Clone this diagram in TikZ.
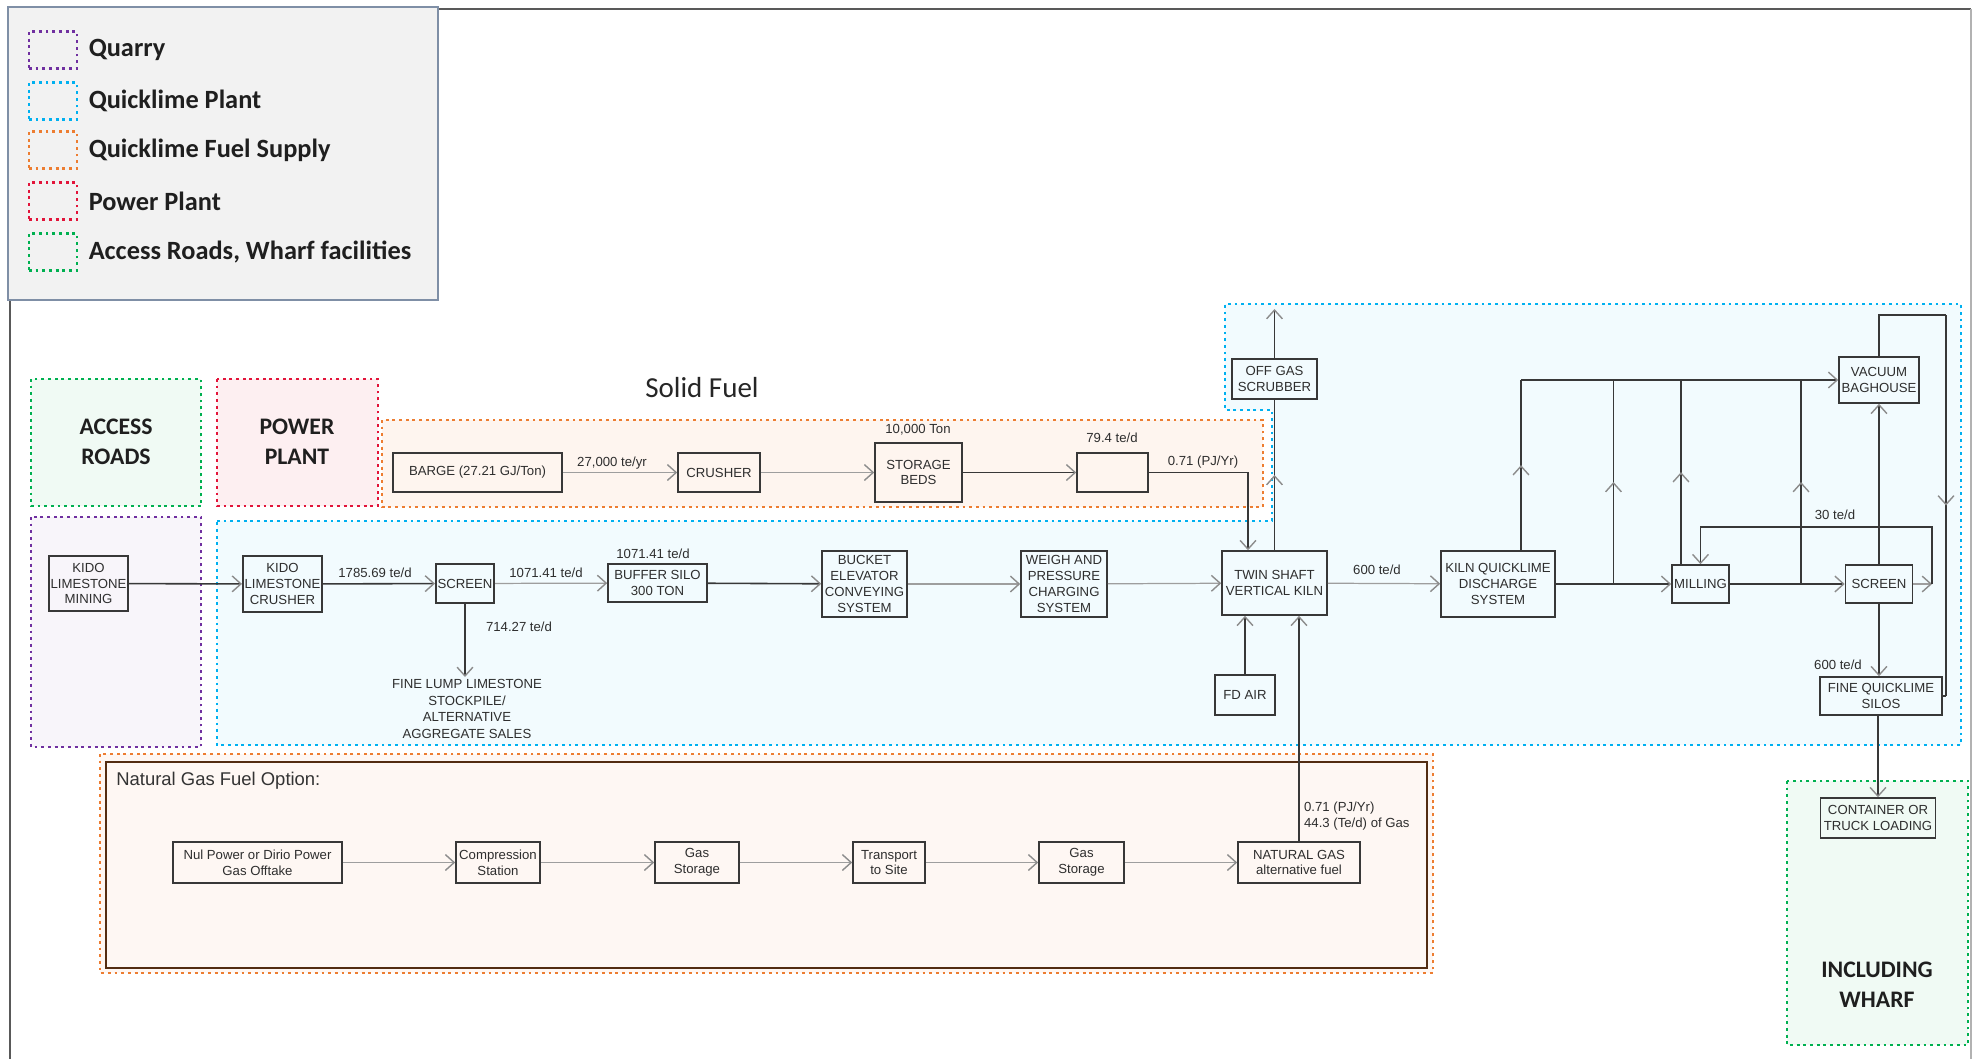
\documentclass[tikz,border=0pt]{standalone}
\usepackage{fontspec}
\setmainfont{Liberation Sans}
\newfontfamily\calfont{Carlito}
\usepackage{tikz}
\usetikzlibrary{arrows.meta, calc, positioning, decorations.markings}
\definecolor{myquarry}{HTML}{7030A0}
\definecolor{myplant}{HTML}{00B0F0}
\definecolor{myfuel}{HTML}{ED7D31}
\definecolor{mypower}{HTML}{E2143A}
\definecolor{myroads}{HTML}{00B050}
\definecolor{legendedge}{HTML}{7F8FA6}
\tikzstyle{procbox} = [draw=black!78, line width=0.9pt, align=center, inner sep=1pt, text=black!82, font=\fontsize{7.5}{9}\selectfont]
\tikzstyle{ratelabel} = [inner sep=1pt, text=black!82, font=\fontsize{7.5}{9}\selectfont]
\tikzstyle{darkflow} = [draw=black!78, line width=0.9pt]
\tikzstyle{liteflow} = [draw=black!38, line width=0.7pt]
\tikzstyle{arrowend} = [-{Straight Barb[length=5pt,width=9pt,color=black!45,line width=0.8pt]}]
\tikzstyle{midarrow} = [postaction={decorate}, decoration={markings, mark=at position 0.5 with {\arrow{Straight Barb[length=5pt,width=9pt,color=black!45,line width=0.8pt]}}}]
\tikzstyle{zone} = [line width=1.6pt, dash pattern=on 1.6pt off 2.2pt]
\tikzstyle{zonetitle} = [align=center, text=black!88, font=\calfont\bfseries\fontsize{13.5}{17}\selectfont]
\tikzstyle{legmark} = [zone, minimum width=0.96cm, minimum height=0.74cm, inner sep=0pt]
\tikzstyle{legtext} = [inner sep=0pt, text=black!88, font=\calfont\bfseries\fontsize{15}{18}\selectfont]

\begin{document}
\begin{tikzpicture}[x=0.02cm, y=-0.02cm]
\useasboundingbox (0,0) rectangle (1979,1059);

% page frame and legend
\draw[black!65, line width=1.1pt] (10,300) -- (10,1059);
\draw[black!65, line width=1.1pt] (438,9) -- (1971,9);
\draw[black!30, line width=0.8pt] (1971,9) -- (1971,1059);
\draw[legendedge, line width=1.2pt, fill=black!5] (8,7) rectangle (438,300);

\node[legmark, draw=myquarry] (legquarry) at (53,50) {};
\node[legtext, right=0.2cm of legquarry] (txtquarry) {Quarry};
\node[legmark, draw=myplant] (legplant) at (53,101) {};
\node[legtext, right=0.2cm of legplant] (txtplant) {Quicklime Plant};
\node[legmark, draw=myfuel] (legfuel) at (53,150) {};
\node[legtext, right=0.2cm of legfuel] (txtfuel) {Quicklime Fuel Supply};
\node[legmark, draw=mypower] (legpower) at (53,201) {};
\node[legtext, right=0.2cm of legpower] (txtpower) {Power Plant};
\node[legmark, draw=myroads] (legroads) at (53,252) {};
\node[legtext, right=0.2cm of legroads] (txtroads) {Access Roads, Wharf facilities};

% zones
\draw[zone, draw=myroads, fill=myroads!6] (31,379) rectangle (201,506);
\node[zonetitle] (roadstitle) at (116,442) {ACCESS\\ROADS};
\draw[zone, draw=mypower, fill=mypower!7] (217,379) rectangle (378,506);
\node[zonetitle] (powertitle) at (297,442) {POWER\\PLANT};
\draw[zone, draw=myquarry, fill=myquarry!5] (31,517) rectangle (201,747);
\draw[zone, draw=myfuel, fill=myfuel!8] (382,420) rectangle (1263,507);
\draw[zone, draw=myplant, fill=myplant!5] (217,521) -- (1272,521) -- (1272,410) -- (1225,410)
  -- (1225,304) -- (1961,304) -- (1961,745) -- (217,745) -- cycle;
\draw[zone, draw=myfuel, fill=myfuel!6] (100,754) rectangle (1433,973);
\draw[draw=black!65!myfuel, line width=1.2pt, fill=myfuel!6] (106,762) rectangle (1427,968);
\draw[zone, draw=myroads, fill=myroads!6] (1787,781) rectangle (1968,1045);
\node[zonetitle] (wharftitle) at (1877,985) {INCLUDING\\WHARF};

\node[text=black!85, font=\calfont\fontsize{16.5}{20}\selectfont] (solidtitle) at (702,388) {Solid Fuel};
\node[anchor=west, inner sep=0pt, text=black!80, font=\fontsize{10.5}{12}\selectfont] (gastitle) at (116,781) {Natural Gas Fuel Option:};

% solid fuel line
\node[procbox, minimum width=3.38cm, minimum height=0.78cm] (barge) at (477.5,472.5) {BARGE (27.21 GJ/Ton)};
\node[procbox, minimum width=1.64cm, minimum height=0.78cm] (fcrusher) at (719,472.5) {CRUSHER};
\node[procbox, minimum width=1.74cm, minimum height=1.18cm] (beds) at (918.5,472.5) {STORAGE\\BEDS};
\node[procbox, minimum width=1.42cm, minimum height=0.78cm] (feeder) at (1112.5,472.5) {};

% limestone line
\node[procbox, minimum width=1.58cm, minimum height=1.10cm] (mining) at (88.5,583.5) {KIDO\\LIMESTONE\\MINING};
\node[procbox, minimum width=1.58cm, minimum height=1.12cm] (crusher) at (282.5,584) {KIDO\\LIMESTONE\\CRUSHER};
\node[procbox, minimum width=1.12cm, minimum height=0.78cm] (screen) at (465,583.5) {SCREEN};
\node[procbox, minimum width=1.98cm, minimum height=0.76cm] (buffer) at (657.5,583) {BUFFER SILO\\300 TON};
\node[procbox, minimum width=1.70cm, minimum height=1.32cm] (bucket) at (864.5,584) {BUCKET\\ELEVATOR\\CONVEYING\\SYSTEM};
\node[procbox, minimum width=1.72cm, minimum height=1.32cm] (weigh) at (1064,584) {WEIGH AND\\PRESSURE\\CHARGING\\SYSTEM};
\node[procbox, minimum width=2.10cm, minimum height=1.28cm] (kiln) at (1274.5,583) {TWIN SHAFT\\VERTICAL KILN};
\node[procbox, minimum width=1.20cm, minimum height=0.80cm] (fdair) at (1245,695) {FD AIR};
\node[procbox, minimum width=1.70cm, minimum height=0.80cm] (scrubber) at (1274.5,379) {OFF GAS\\SCRUBBER};
\node[ratelabel, anchor=north, align=center, font=\fontsize{7.5}{9.5}\selectfont] (lump) at (467,677) {FINE LUMP LIMESTONE\\STOCKPILE/\\ALTERNATIVE\\AGGREGATE SALES};

% quicklime line
\node[procbox, minimum width=2.28cm, minimum height=1.32cm] (discharge) at (1498,584) {KILN QUICKLIME\\DISCHARGE\\SYSTEM};
\node[procbox, minimum width=1.14cm, minimum height=0.76cm] (milling) at (1700.5,584) {MILLING};
\node[procbox, minimum width=1.34cm, minimum height=0.76cm] (screen2) at (1879,584) {SCREEN};
\node[procbox, minimum width=1.60cm, minimum height=0.92cm] (baghouse) at (1879,380) {VACUUM\\BAGHOUSE};
\node[procbox, minimum width=2.44cm, minimum height=0.76cm] (silos) at (1881,696) {FINE QUICKLIME\\SILOS};
\node[procbox, minimum width=2.30cm, minimum height=0.80cm] (container) at (1878,818) {CONTAINER OR\\TRUCK LOADING};

% natural gas line
\node[procbox, minimum width=3.38cm, minimum height=0.82cm] (offtake) at (257.5,862.5) {Nul Power or Dirio Power\\Gas Offtake};
\node[procbox, minimum width=1.68cm, minimum height=0.82cm] (compress) at (498,862.5) {Compression\\Station};
\node[procbox, minimum width=1.68cm, minimum height=0.82cm] (gstore) at (697,862.5) {Gas\\Storage};
\node[procbox, minimum width=1.44cm, minimum height=0.82cm] (transport) at (889,862.5) {Transport\\to Site};
\node[procbox, minimum width=1.70cm, minimum height=0.82cm] (gstoretwo) at (1081.5,862.5) {Gas\\Storage};
\node[procbox, minimum width=2.44cm, minimum height=0.82cm] (ngfuel) at (1299,862.5) {NATURAL GAS\\alternative fuel};

% rates
\node[ratelabel] (r27000) at (612,463) {27,000 te/yr};
\node[ratelabel] (r10000) at (918,430) {10,000 Ton};
\node[ratelabel] (r794) at (1112,438) {79.4 te/d};
\node[ratelabel] (r071) at (1203,462) {0.71 (PJ/Yr)};
\node[ratelabel] (r1785) at (375,573) {1785.69 te/d};
\node[ratelabel] (r1071a) at (546,573) {1071.41 te/d};
\node[ratelabel] (r1071b) at (653,554) {1071.41 te/d};
\node[ratelabel] (r714) at (519,627) {714.27 te/d};
\node[ratelabel] (r600a) at (1377,570) {600 te/d};
\node[ratelabel] (r30) at (1835,515) {30 te/d};
\node[ratelabel] (r600b) at (1838,665) {600 te/d};
\node[ratelabel, anchor=west, align=left] (rgas) at (1302,816) {0.71 (PJ/Yr)\\44.3 (Te/d) of Gas};

% solid fuel flows
\draw[liteflow, arrowend] (barge) -- (fcrusher);
\draw[liteflow, arrowend] (fcrusher) -- (beds);
\draw[darkflow, arrowend] (beds) -- (feeder);
\draw[darkflow, arrowend] (feeder.east) -| ([xshift=-0.53cm]kiln.north);

% limestone flows
\draw[darkflow, arrowend] (mining) -- (crusher);
\draw[darkflow, arrowend] (crusher) -- (screen);
\draw[liteflow, arrowend] (screen) -- (buffer);
\draw[darkflow, arrowend] (screen.south) -- (screen.south |- lump.north);
\draw[darkflow, arrowend] (buffer) -- (bucket);
\draw[liteflow, arrowend] (bucket) -- (weigh);
\draw[liteflow, arrowend] (weigh) -- (kiln);
\coordinate (stack) at (1274.5,309);
\draw[darkflow, midarrow] (kiln.north) -- (scrubber.south);
\draw[darkflow, arrowend] (scrubber.north) -- (stack);
\draw[darkflow, arrowend] (fdair.north) -- (fdair.north |- kiln.south);
\draw[darkflow, arrowend] (ngfuel.north) -- (ngfuel.north |- kiln.south);

% quicklime flows
\draw[liteflow, arrowend] (kiln) -- (discharge);
\draw[darkflow, arrowend] (discharge) -- (milling);
\draw[darkflow, arrowend] (milling) -- (screen2);
\coordinate (riseA) at ([xshift=0.46cm]discharge.north);
\coordinate (riseB) at ($(discharge.east)!0.5!(milling.west)$);
\coordinate (riseC) at ([xshift=-0.39cm]milling.north);
\coordinate (riseD) at ($(milling.east)!0.62!(screen2.west)$);
\draw[darkflow, midarrow] (riseA) -- (riseA |- baghouse.west);
\draw[darkflow, midarrow] (riseB) -- (riseB |- baghouse.west);
\draw[darkflow, midarrow] (riseC) -- (riseC |- baghouse.west);
\draw[darkflow, midarrow] (riseD) -- (riseD |- baghouse.west);
\draw[darkflow, arrowend] (riseA |- baghouse.west) -- (baghouse.west);
\coordinate (recycle) at (1932,527);
\draw[liteflow, arrowend] (screen2.east) -- (screen2.east -| recycle);
\draw[darkflow, arrowend] (screen2.east -| recycle) -- (recycle) -| (milling.north);
\draw[darkflow, arrowend] (screen2.north) -- (screen2.north |- baghouse.south);
\draw[darkflow, arrowend] (screen2.south) -- (screen2.south |- silos.north);
\coordinate (loopturn) at (1946,315);
\draw[darkflow] (baghouse.north) |- (loopturn);
\draw[darkflow, midarrow] (loopturn) -- (loopturn |- silos.east);
\draw[darkflow] (loopturn |- silos.east) -- (silos.east);
\draw[darkflow, arrowend] (container.north |- silos.south) -- (container.north);

% natural gas flows
\draw[liteflow, arrowend] (offtake) -- (compress);
\draw[liteflow, arrowend] (compress) -- (gstore);
\draw[liteflow, arrowend] (gstore) -- (transport);
\draw[liteflow, arrowend] (transport) -- (gstoretwo);
\draw[liteflow, arrowend] (gstoretwo) -- (ngfuel);
\end{tikzpicture}
\end{document}
